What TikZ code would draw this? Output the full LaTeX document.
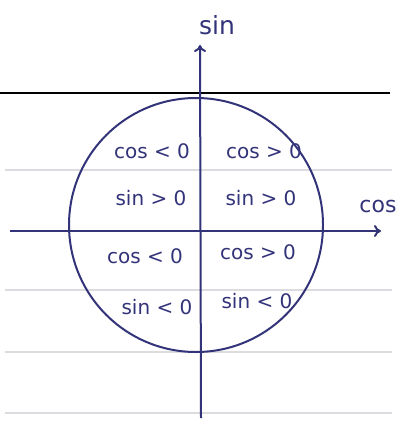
\documentclass[tikz,border=0pt]{standalone}
\usepackage{fontspec}
\setmainfont{DejaVu Sans}
\usetikzlibrary{arrows.meta}
\definecolor{ink}{HTML}{33337A}
\definecolor{rule}{HTML}{DCDCE0}
\tikzset{
  ruleline/.style={draw=rule, line width=1.2pt},
  axisline/.style={draw=ink, line width=2pt, -{To[length=7pt,width=12pt]}},
  lbl/.style={text=ink, font=\fontsize{20}{22}\selectfont, inner sep=1pt},
  axlbl/.style={text=ink, font=\fontsize{25}{27}\selectfont, inner sep=1pt}
}
\begin{document}
\begin{tikzpicture}[x=1pt,y=-1pt]
\useasboundingbox[fill=white] (0,0) rectangle (403,425);
% ruled paper lines
\draw[ruleline] (5,170) -- (392,170);
\draw[ruleline] (5,290) -- (392,290);
\draw[ruleline] (5,352) -- (392,352);
\draw[ruleline] (5,413) -- (392,413);
\draw[black, line width=1.8pt] (0,93) -- (390,93);
% circle
\coordinate (O) at (196,225);
\draw[ink, line width=2pt] (O) circle[radius=127];
% axes
\coordinate (xs) at (10,231);
\coordinate (xe) at (381,231);
\coordinate (ys) at (201,418);
\coordinate (ye) at (200,45);
\draw[axisline] (xs) -- (xe);
\draw[axisline] (ys) -- (ye);
\node[axlbl] (sinax) at (217,25) {sin};
\node[axlbl, font=\fontsize{22}{24}\selectfont] (cosax) at (378,206) {cos};
% quadrant labels
\node[lbl] (q2c) at (152,151) {cos < 0};
\node[lbl] (q2s) at (151,198) {sin > 0};
\node[lbl] (q1c) at (264,151) {cos > 0};
\node[lbl] (q1s) at (261,198) {sin > 0};
\node[lbl] (q3c) at (145,256) {cos < 0};
\node[lbl] (q3s) at (157,307) {sin < 0};
\node[lbl] (q4c) at (258,252) {cos > 0};
\node[lbl] (q4s) at (257,301) {sin < 0};
\end{tikzpicture}
\end{document}
